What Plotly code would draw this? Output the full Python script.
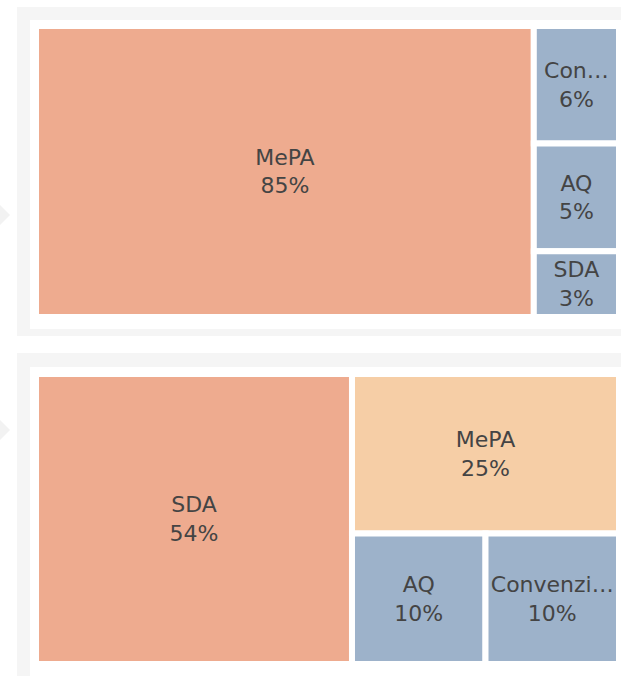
import plotly.graph_objects as go

W, H = 621, 676

# Panel 1 data
labels1 = ["MePA", "Convenzioni", "AQ", "SDA"]
display1 = ["MePA", "Con…", "AQ", "SDA"]
values1 = [85.3, 5.9, 5.4, 3.3]
colors1 = ["#EEAB8F", "#9DB2CA", "#9DB2CA", "#9DB2CA"]

# Panel 2 data
labels2 = ["SDA", "MePA", "AQ", "Convenzioni"]
display2 = ["SDA", "MePA", "AQ", "Convenzi…"]
values2 = [54.2, 25.2, 10.3, 10.3]
colors2 = ["#EEAB8F", "#F6CEA6", "#9DB2CA", "#9DB2CA"]


def px_x(x):
    return x / W


def px_y(y):
    return 1 - y / H


fig = go.Figure()

for labels, display, values, colors, (y0, y1) in [
    (labels1, display1, values1, colors1, (26, 317)),
    (labels2, display2, values2, colors2, (374, 664)),
]:
    fig.add_trace(go.Treemap(
        labels=labels,
        parents=[""] * len(labels),
        values=values,
        text=display,
        texttemplate="%{text}<br>%{percentRoot:.0%}",
        textposition="middle center",
        textfont=dict(family="DejaVu Sans", size=22, color="#444444"),
        marker=dict(colors=colors, line=dict(color="white", width=6),
                    pad=dict(t=0, l=0, r=0, b=0)),
        tiling=dict(packing="binary", pad=0),
        root=dict(color="rgba(0,0,0,0)"),
        sort=False,
        pathbar=dict(visible=False),
        hoverinfo="label+value+percent root",
        domain=dict(x=[px_x(36), px_x(619)], y=[px_y(y1), px_y(y0)]),
    ))

shapes = []
# panel backgrounds
for (gy0, gy1, wy0, wy1) in [(7, 336, 20, 329), (353, 690, 367, 690)]:
    shapes.append(dict(type="rect", xref="paper", yref="paper", layer="below",
                       x0=px_x(17), x1=px_x(640), y0=px_y(gy1), y1=px_y(gy0),
                       fillcolor="#F5F5F5", line=dict(width=0)))
    shapes.append(dict(type="rect", xref="paper", yref="paper", layer="below",
                       x0=px_x(30), x1=px_x(640), y0=px_y(wy1), y1=px_y(wy0),
                       fillcolor="#FFFFFF", line=dict(width=0)))
# faint arrows on the left
for cy in [215, 430]:
    path = "M {} {} L {} {} L {} {} Z".format(
        px_x(0), px_y(cy - 10), px_x(10), px_y(cy), px_x(0), px_y(cy + 10))
    shapes.append(dict(type="path", xref="paper", yref="paper", layer="below",
                       path=path, fillcolor="#F2F2F2", line=dict(width=0)))

fig.update_layout(
    width=W, height=H,
    margin=dict(l=0, r=0, t=0, b=0),
    paper_bgcolor="white",
    shapes=shapes,
    showlegend=False,
)

fig.write_html(
    "out.html",
    config={"displayModeBar": False},
    post_script="document.body.style.margin='0';document.body.style.overflow='hidden';",
)
